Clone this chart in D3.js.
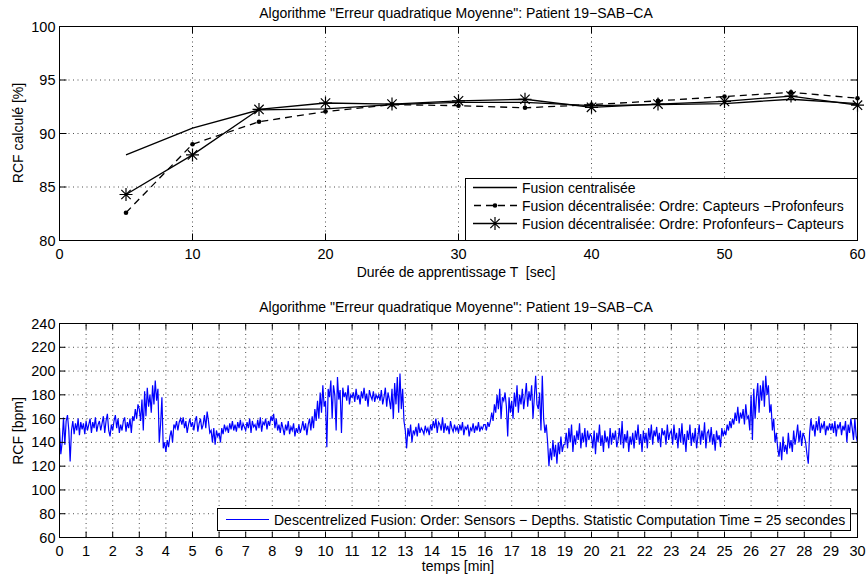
<!DOCTYPE html>
<html><head><meta charset="utf-8">
<script src="https://cdn.jsdelivr.net/npm/d3@7"></script>
<style>
html,body{margin:0;padding:0;background:#fff;}
text{font-family:"Liberation Sans",Arial,Helvetica,sans-serif;}
</style></head>
<body><svg id="chart" width="867" height="578"></svg>
<script>
// ---------- data: top chart ----------
const trainDuration = [5,10,15,20,25,30,35,40,45,50,55,60];
const rcfCentral   = [88.0,90.5,92.2,92.3,92.7,92.9,92.9,92.6,92.7,92.8,93.2,92.8];
const rcfCapProf   = [82.6,89.0,91.1,92.05,92.7,92.6,92.4,92.7,93.05,93.45,93.85,93.3];
const rcfProfCap   = [84.3,88.0,92.25,92.85,92.75,93.05,93.2,92.45,92.75,93.0,93.5,92.65];
const topXTicks = [0,10,20,30,40,50,60];
const topYTicks = [80,85,90,95,100];
const topLegend = ["Fusion centralisée","Fusion décentralisée: Ordre: Capteurs −Profonfeurs","Fusion décentralisée: Ordre: Profonfeurs− Capteurs"];
const chartTitle = "Algorithme \"Erreur quadratique Moyenne\": Patient 19−SAB−CA";

// ---------- data: bottom chart (RCF in bpm, one sample every 0.05 min) ----------
const signalStep = 0.05;
const rcfSignal = [
152,130,140,161,138,158,163,150,124,150,158,147,156,150,160,146,157,151,156,147,
158,150,155,160,148,157,152,161,149,155,158,150,156,162,148,158,164,150,145,155,
150,158,163,152,160,148,155,150,158,161,149,157,152,160,148,162,158,168,160,172,
168,158,176,150,183,162,186,170,180,165,188,172,192,175,185,140,155,178,135,140,
132,142,136,145,150,140,155,152,158,150,157,160,155,161,152,158,148,155,160,153,
157,150,158,162,149,156,160,151,155,163,152,166,158,148,150,140,152,138,150,145,
148,140,152,147,155,150,153,148,156,151,158,150,155,149,157,152,159,150,156,153,
150,157,152,160,148,158,153,155,150,159,152,161,149,157,155,160,151,158,154,162,
158,164,152,160,150,155,148,157,152,146,155,150,158,147,153,150,156,145,152,148,
155,148,152,158,150,156,146,155,160,150,162,152,168,158,175,160,182,165,188,170,
175,136,185,178,192,160,188,180,150,195,176,184,148,186,178,182,175,188,172,180,
178,182,174,185,176,180,172,183,177,186,175,181,170,184,179,176,183,174,180,177,
180,175,184,172,178,186,170,182,176,168,185,160,190,172,195,165,198,168,185,158,
150,135,152,145,155,140,150,147,153,145,156,148,152,150,147,154,149,152,146,155,
150,158,152,160,148,157,155,150,161,148,156,150,154,147,158,152,149,155,150,153,
148,155,150,157,146,153,151,155,145,152,150,156,148,154,150,157,149,153,151,155,
155,150,157,153,158,165,158,172,165,180,168,185,160,178,175,182,170,145,178,165,
175,160,182,170,188,165,180,172,185,168,178,190,170,183,175,188,160,178,196,172,
168,182,150,196,160,148,155,140,120,135,125,142,128,138,122,140,130,145,132,138,
138,148,135,152,140,155,132,146,138,150,142,156,135,148,140,152,136,150,142,147,
145,135,150,130,148,140,155,137,146,132,150,140,145,135,152,138,148,142,150,136,
142,152,138,158,135,147,140,150,132,145,138,148,135,150,142,155,138,147,132,150,
140,148,135,152,142,155,138,150,145,153,140,148,136,152,146,150,138,155,142,148,
150,138,155,142,148,135,152,140,156,138,147,132,150,142,155,137,148,140,152,135,
145,155,138,150,142,157,135,148,150,140,153,138,147,133,150,142,146,136,152,145,
150,146,155,150,158,152,160,155,165,158,170,156,165,160,168,155,172,160,162,150,
180,142,185,160,178,190,165,188,175,192,170,196,180,188,165,172,150,160,140,148,
135,128,140,125,145,132,138,130,148,135,142,132,150,138,145,155,140,150,137,148,
145,140,130,122,148,160,150,155,145,158,150,162,148,155,152,158,146,154,150,156,
150,156,148,158,145,155,152,157,146,154,150,158,140,155,148,160,152,142,160,145,
140];
const botXTicks = d3.range(0,31);
const botYTicks = [60,80,100,120,140,160,180,200,220,240];
const botLegend = "Descentrelized Fusion: Order: Sensors − Depths. Statistic Computation Time = 25 secondes";

// ---------- drawing ----------
const svg = d3.select("#chart");
const FS = 14;
const TFS = 14.5;

function axesFrame(g, x, y, xt, yt){
  const [x0,x1] = x.range(), [y0,y1] = y.range();
  g.append("g").selectAll("line").data(xt.slice(1,-1)).join("line")
    .attr("x1",d=>x(d)).attr("x2",d=>x(d)).attr("y1",y0).attr("y2",y1)
    .attr("stroke","#222").attr("stroke-width",0.8).attr("stroke-dasharray","1,3.5");
  g.append("g").selectAll("line").data(yt.slice(1,-1)).join("line")
    .attr("y1",d=>y(d)).attr("y2",d=>y(d)).attr("x1",x0).attr("x2",x1)
    .attr("stroke","#222").attr("stroke-width",0.8).attr("stroke-dasharray","1,3.5");
}
function axesTicks(g, x, y, xt, yt, tickLen){
  const [x0,x1] = x.range(), [y0,y1] = y.range();
  const tk = g.append("g").attr("stroke","#000").attr("stroke-width",1);
  xt.forEach(d=>{
    tk.append("line").attr("x1",x(d)).attr("x2",x(d)).attr("y1",y0).attr("y2",y0-tickLen);
    tk.append("line").attr("x1",x(d)).attr("x2",x(d)).attr("y1",y1).attr("y2",y1+tickLen);
  });
  yt.forEach(d=>{
    tk.append("line").attr("y1",y(d)).attr("y2",y(d)).attr("x1",x0).attr("x2",x0+tickLen);
    tk.append("line").attr("y1",y(d)).attr("y2",y(d)).attr("x1",x1).attr("x2",x1-tickLen);
  });
  g.append("rect").attr("x",x0).attr("y",y1).attr("width",x1-x0).attr("height",y0-y1)
    .attr("fill","none").attr("stroke","#000").attr("stroke-width",1);
  g.append("g").selectAll("text").data(xt).join("text")
    .attr("x",d=>x(d)).attr("y",y0+18).attr("text-anchor","middle").attr("font-size",TFS).text(d=>d);
  g.append("g").selectAll("text").data(yt).join("text")
    .attr("x",x0-4).attr("y",d=>y(d)+5).attr("text-anchor","end").attr("font-size",TFS).text(d=>d);
}

// ===== top chart =====
const xT = d3.scaleLinear().domain([0,60]).range([59.5,857.5]);
const yT = d3.scaleLinear().domain([80,100]).range([240.5,26.5]);
const gT = svg.append("g");
axesFrame(gT,xT,yT,topXTicks,topYTicks);

const lineT = (arr)=>d3.line().x((d,i)=>xT(trainDuration[i])).y(d=>yT(d))(arr);
gT.append("path").attr("d",lineT(rcfCentral)).attr("fill","none").attr("stroke","#000").attr("stroke-width",1.3);
gT.append("path").attr("d",lineT(rcfCapProf)).attr("fill","none").attr("stroke","#000").attr("stroke-width",1.3).attr("stroke-dasharray","7,5");
gT.append("path").attr("d",lineT(rcfProfCap)).attr("fill","none").attr("stroke","#000").attr("stroke-width",1.3);
gT.append("g").selectAll("circle").data(rcfCapProf).join("circle")
  .attr("cx",(d,i)=>xT(trainDuration[i])).attr("cy",d=>yT(d)).attr("r",2.3).attr("fill","#000");
function starPath(cx,cy,r){
  const a=r*0.72;
  return `M${cx-r},${cy}L${cx+r},${cy}M${cx},${cy-r}L${cx},${cy+r}M${cx-a},${cy-a}L${cx+a},${cy+a}M${cx-a},${cy+a}L${cx+a},${cy-a}`;
}
gT.append("g").selectAll("path").data(rcfProfCap).join("path")
  .attr("d",(d,i)=>starPath(xT(trainDuration[i]),yT(d),6.5))
  .attr("stroke","#000").attr("stroke-width",1.2).attr("fill","none");
axesTicks(gT,xT,yT,topXTicks,topYTicks,7);

svg.append("text").attr("x",456).attr("y",18).attr("text-anchor","middle").attr("font-size",FS).text(chartTitle);
svg.append("text").attr("x",456).attr("y",277).attr("text-anchor","middle").attr("font-size",FS).style("white-space","pre").text("Durée de apprentissage T  [sec]");
svg.append("text").attr("transform","translate(23,133) rotate(-90)").attr("text-anchor","middle").attr("font-size",FS).text("RCF calculé [%]");

// top legend
const lg = svg.append("g");
lg.append("rect").attr("x",465.5).attr("y",178.5).attr("width",392).attr("height",62).attr("fill","#fff").attr("stroke","#000");
const lgY = [187.5,205.5,223.5];
topLegend.forEach((t,i)=>{
  const yy = lgY[i];
  const ln = lg.append("line").attr("x1",473).attr("x2",517).attr("y1",yy).attr("y2",yy).attr("stroke","#000").attr("stroke-width",1.3);
  if(i===1){ ln.attr("stroke-dasharray","7,5").attr("x1",474);
    lg.append("circle").attr("cx",495).attr("cy",yy).attr("r",2.3).attr("fill","#000"); }
  if(i===2){ lg.append("path").attr("d",starPath(495,yy,6.5)).attr("stroke","#000").attr("stroke-width",1.2); }
  lg.append("text").attr("x",522).attr("y",yy+5).attr("font-size",FS).text(t);
});

// ===== bottom chart =====
const xB = d3.scaleLinear().domain([0,30]).range([59.5,857.5]);
const yB = d3.scaleLinear().domain([60,240]).range([537.5,323.5]);
const gB = svg.append("g");
axesFrame(gB,xB,yB,botXTicks,botYTicks);
gB.append("path")
  .attr("d",d3.line().x((d,i)=>xB(i*signalStep)).y(d=>yB(d))(rcfSignal))
  .attr("fill","none").attr("stroke","#0000ff").attr("stroke-width",1.2);
axesTicks(gB,xB,yB,botXTicks,botYTicks,6);

svg.append("text").attr("x",456).attr("y",312).attr("text-anchor","middle").attr("font-size",FS).text(chartTitle);
svg.append("text").attr("x",458).attr("y",571).attr("text-anchor","middle").attr("font-size",FS).text("temps [min]");
svg.append("text").attr("transform","translate(23,431) rotate(-90)").attr("text-anchor","middle").attr("font-size",FS).text("RCF [bpm]");

const lb = svg.append("g");
lb.append("rect").attr("x",217.5).attr("y",508.5).attr("width",633).attr("height",22).attr("fill","#fff").attr("stroke","#000");
lb.append("line").attr("x1",226).attr("x2",269).attr("y1",519.5).attr("y2",519.5).attr("stroke","#0000ff").attr("stroke-width",1);
lb.append("text").attr("x",274).attr("y",524.5).attr("font-size",FS).text(botLegend);
</script></body></html>
